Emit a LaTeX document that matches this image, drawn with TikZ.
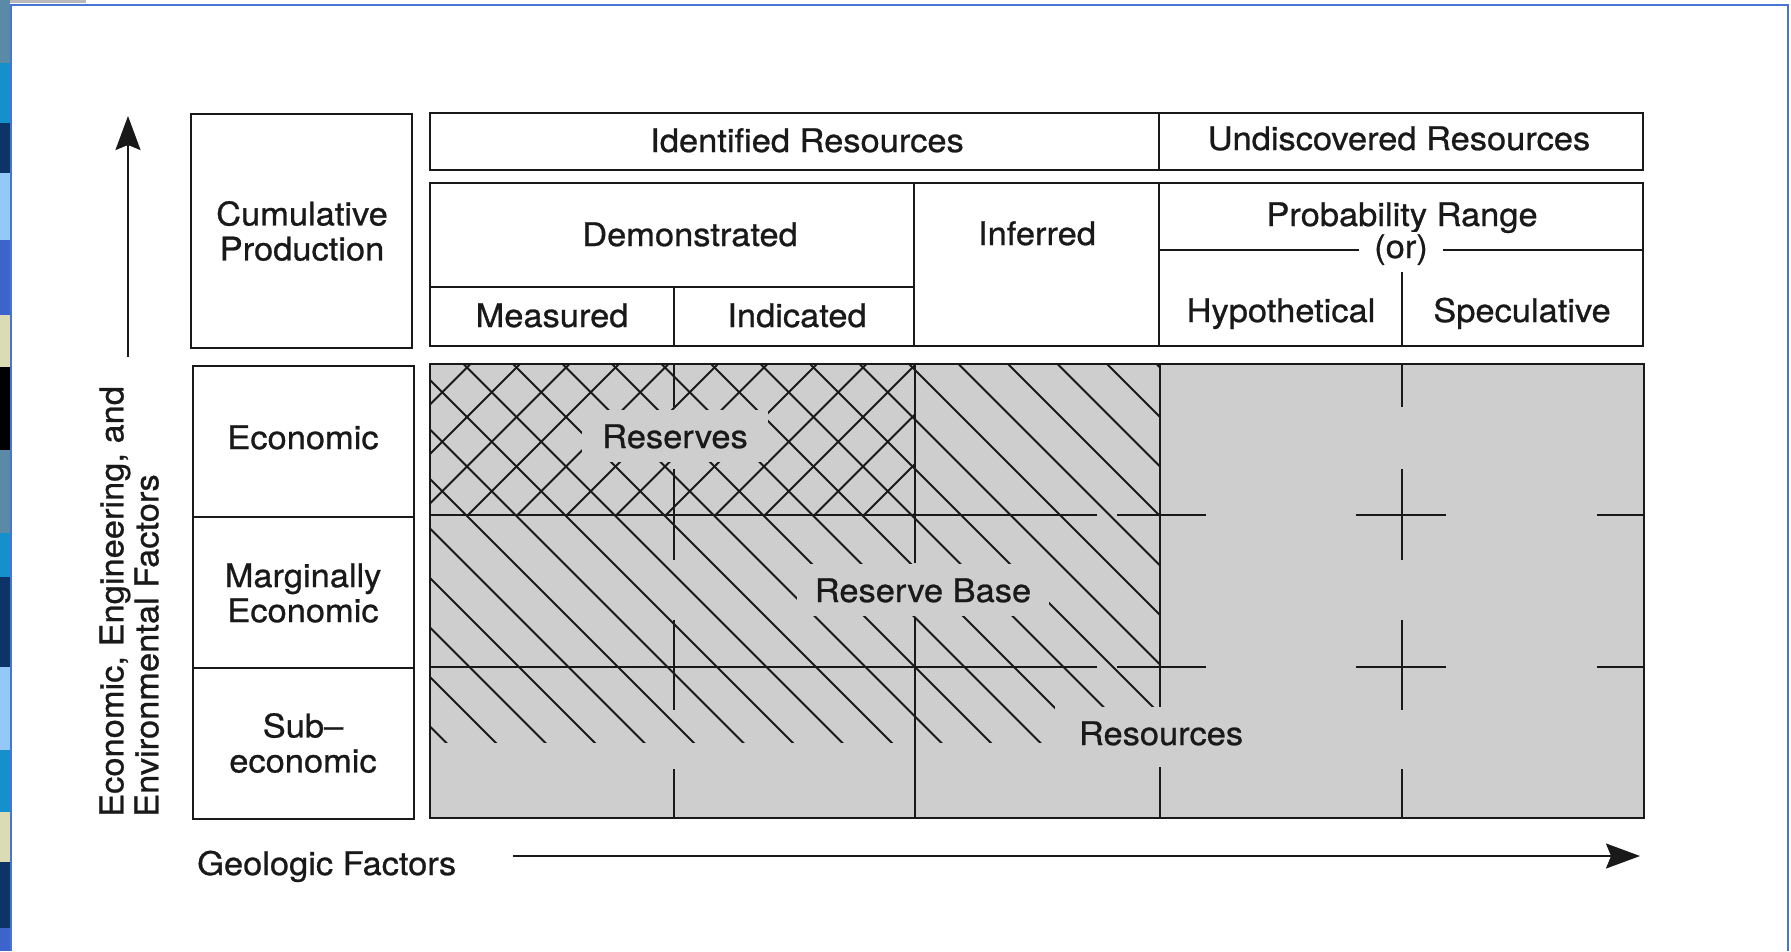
\documentclass[tikz,border=0pt]{standalone}
\usepackage{fontspec}
\setmainfont{TeX Gyre Heros}[FakeStretch=1.06,FakeBold=0.8]
\usetikzlibrary{arrows.meta}
\definecolor{fillgray}{RGB}{206,206,206}
\definecolor{frameblue}{RGB}{72,116,214}
\definecolor{sA}{RGB}{91,138,166}
\definecolor{sB}{RGB}{20,144,204}
\definecolor{sC}{RGB}{12,52,102}
\definecolor{sD}{RGB}{148,200,246}
\definecolor{sE}{RGB}{60,100,204}
\definecolor{sF}{RGB}{220,220,180}
\begin{document}
\begin{tikzpicture}[x=1pt,y=-1pt,
  box/.style={draw=black!90, line width=2.4pt},
  rule/.style={draw=black!90, line width=2.2pt},
  hatch/.style={draw=black!90, line width=1.8pt},
  lab/.style={font=\fontsize{32.5}{35}\selectfont, inner sep=0pt, align=center, text=black!90},
  masklab/.style={lab, fill=fillgray, inner xsep=20pt, inner ysep=14pt},
  whitelab/.style={lab, fill=white, inner xsep=15pt, inner ysep=2pt},
  axisarrow/.style={draw=black!90, line width=2pt, -{Stealth[length=34pt,width=25pt,inset=5pt]}},
]
\useasboundingbox (0,0) rectangle (1791,951);
\fill[white] (0,0) rectangle (1791,951);
% slide frame remnants
\foreach \a/\b/\c in {0/63/sA,63/123/sB,123/173/sC,173/240/sD,240/315/sE,315/367/sF,367/450/black,450/533/sA,533/577/sB,577/667/sC,667/750/sD,750/812/sB,812/862/sF,862/928/sC,928/951/sE}
  \fill[\c] (0,\a) rectangle (9.5,\b);
\fill[gray!55] (9.5,0) rectangle (86,3);
\draw[frameblue, line width=2pt] (10.5,951) -- (10.5,5) -- (1788,5) -- (1788,951);

% ---------- left column ----------
\draw[box] (191,114) rectangle (412,348);
\node[lab] (cum) at (302,231) {Cumulative\\Production};
\draw[box] (193,366) rectangle (414,819);
\draw[rule] (193,517) -- (414,517);
\draw[rule] (193,668) -- (414,668);
\node[lab, anchor=base] (eco) at (303,449) {Economic};
\node[lab] (marg) at (303,593) {Marginally\\Economic};
\node[lab] (sub) at (303,743) {Sub–\\economic};

% ---------- top headers ----------
\draw[box] (430,113) rectangle (1643,170);
\draw[rule] (1159,113) -- (1159,170);
\node[lab, anchor=base] (ident) at (807,152) {Identified Resources};
\node[lab, anchor=base] (undisc) at (1399,150) {Undiscovered Resources};

\draw[box] (430,183) rectangle (1643,346);
\draw[rule] (914,183) -- (914,346);
\draw[rule] (1159,183) -- (1159,346);
\draw[rule] (430,287) -- (914,287);
\draw[rule] (674,287) -- (674,346);
\draw[rule] (1159,250) -- (1643,250);
\draw[rule] (1402,272) -- (1402,346);
\node[lab, anchor=base] (demo) at (690,246) {Demonstrated};
\node[lab, anchor=base] (inf) at (1037,245) {Inferred};
\node[lab, anchor=base] (meas) at (552,327) {Measured};
\node[lab, anchor=base] (indi) at (797,327) {Indicated};
\node[lab, anchor=base] (prob) at (1402,226) {Probability Range};
\node[whitelab, anchor=base] (or) at (1401,258) {(or)};
\node[lab, anchor=base] (hypo) at (1281,322) {Hypothetical};
\node[lab, anchor=base] (spec) at (1522,322) {Speculative};

% ---------- grey field ----------
\fill[fillgray] (430,364) rectangle (1644,818);
% single hatch (reserve base)
\begin{scope}
  \clip (430,364) rectangle (1160,742);
  \foreach \k in {-8,...,18} {
    \pgfmathsetmacro\cc{49.5*\k+0.5}
    \draw[hatch] (\cc+300,300) -- (\cc+800,800);
  }
\end{scope}
% cross hatch (reserves)
\begin{scope}
  \clip (430,364) rectangle (915,515);
  \foreach \k in {-5,...,10} {
    \pgfmathsetmacro\cc{983+49.5*\k}
    \draw[hatch] (\cc-300,300) -- (\cc-600,600);
  }
\end{scope}
% labels with masks
\node[masklab, anchor=base] (res) at (675,448) {Reserves};
\node[masklab, inner xsep=18pt, anchor=base] (rbase) at (923,602) {Reserve Base};
\node[masklab, inner xsep=24pt, anchor=base] (resou) at (1161,745) {Resources};

% grid lines
\foreach \y in {515,667} {
  \draw[rule] (430,\y) -- (1097,\y);
  \draw[rule] (1117,\y) -- (1206,\y);
  \draw[rule] (1356,\y) -- (1446,\y);
  \draw[rule] (1597,\y) -- (1644,\y);
}
\foreach \x in {674,1402} {
  \draw[rule] (\x,364) -- (\x,407);
  \draw[rule] (\x,469) -- (\x,560);
  \draw[rule] (\x,620) -- (\x,710);
  \draw[rule] (\x,769) -- (\x,818);
}
\draw[rule] (915,364) -- (915,563);
\draw[rule] (915,617) -- (915,818);
\draw[rule] (1160,364) -- (1160,707);
\draw[rule] (1160,767) -- (1160,818);
\draw[box] (430,364) rectangle (1644,818);

% ---------- axes ----------
\coordinate (ya) at (128,357);
\coordinate (yb) at (128,116);
\draw[axisarrow] (ya) -- (yb);
\node[lab, rotate=90, anchor=south west, align=left] (yl) at (159,817)
  {Economic, Engineering, and\\Environmental Factors};
\node[lab, anchor=base west] (geo) at (197,875) {Geologic Factors};
\coordinate (xa) at (513,856);
\coordinate (xb) at (1640,856);
\draw[axisarrow] (xa) -- (xb);
\end{tikzpicture}
\end{document}
